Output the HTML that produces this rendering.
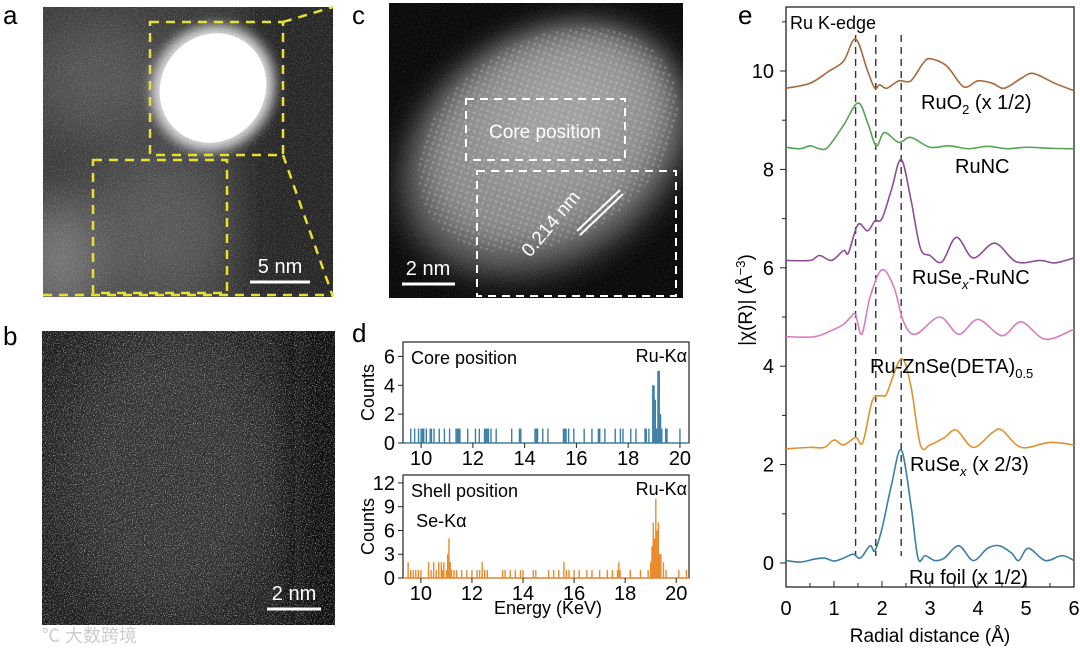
<!DOCTYPE html>
<html><head><meta charset="utf-8"><style>
body{margin:0;background:#fff;width:1080px;height:652px;overflow:hidden;font-family:"Liberation Sans",Arial,sans-serif}
svg{position:absolute;left:0;top:0}
</style></head><body>
<svg id="fig" width="1080" height="652" viewBox="0 0 1080 652" xmlns="http://www.w3.org/2000/svg">
<defs>
<filter id="noise" x="0" y="0" width="100%" height="100%"><feTurbulence type="fractalNoise" baseFrequency="0.9" numOctaves="2" seed="3"/><feColorMatrix type="matrix" values="0 0 0 0 1  0 0 0 0 1  0 0 0 0 1  3 0 0 0 -1.55"/></filter>
<filter id="blur6" x="-50%" y="-50%" width="200%" height="200%"><feGaussianBlur stdDeviation="6"/></filter>
<filter id="blur14" x="-50%" y="-50%" width="200%" height="200%"><feGaussianBlur stdDeviation="14"/></filter>
<filter id="blur25" x="-100%" y="-100%" width="300%" height="300%"><feGaussianBlur stdDeviation="25"/></filter>
<clipPath id="clipA"><rect x="43" y="7" width="290" height="290"/></clipPath>
<clipPath id="clipB"><rect x="42" y="331" width="293" height="294"/></clipPath>
<clipPath id="clipC"><rect x="389" y="3" width="294" height="295"/></clipPath>
<pattern id="lattice" width="6" height="6" patternUnits="userSpaceOnUse" patternTransform="rotate(-40)"><circle cx="3" cy="3" r="1.5" fill="#fff" opacity="0.18"/></pattern>
</defs>

<!-- Panel a -->
<g clip-path="url(#clipA)">
<rect x="43" y="7" width="290" height="290" fill="#3a3a3a"/>
<ellipse cx="100" cy="80" rx="70" ry="60" fill="#545454" filter="url(#blur25)"/>
<ellipse cx="160" cy="230" rx="70" ry="80" fill="#565656" filter="url(#blur25)"/>
<ellipse cx="60" cy="260" rx="40" ry="60" fill="#7a7a7a" filter="url(#blur25)"/>
<rect x="245" y="-20" width="120" height="340" fill="#262626" filter="url(#blur14)"/>
<ellipse cx="213" cy="88" rx="60" ry="64" transform="rotate(35 213 88)" fill="#ddd" filter="url(#blur6)"/>
<ellipse cx="213" cy="88" rx="52" ry="56" transform="rotate(35 213 88)" fill="#fff"/>
<rect x="43" y="7" width="290" height="290" filter="url(#noise)" opacity="0.3"/>
</g>
<g fill="none" stroke="#e6e030" stroke-width="2.5" stroke-dasharray="9,7">
<rect x="150" y="22" width="133" height="133"/>
<rect x="93" y="160" width="134" height="133"/>
<line x1="283" y1="22" x2="333" y2="7"/>
<line x1="283" y1="155" x2="333" y2="297"/>
<line x1="43" y1="295" x2="333" y2="295"/>
</g>
<line x1="250" y1="282" x2="310" y2="282" stroke="#fff" stroke-width="3"/>
<text x="280" y="273" fill="#fff" font-size="20" text-anchor="middle">5 nm</text>
<text x="3" y="24" font-size="26">a</text>

<!-- Panel b -->
<g clip-path="url(#clipB)">
<rect x="42" y="331" width="293" height="294" fill="#1e1e1e"/>
<ellipse cx="170" cy="470" rx="110" ry="150" fill="#333" filter="url(#blur25)"/>
<rect x="295" y="300" width="80" height="360" fill="#111" filter="url(#blur14)"/>
<rect x="42" y="331" width="293" height="294" filter="url(#noise)" opacity="0.7"/>
</g>
<line x1="267" y1="609" x2="321" y2="609" stroke="#fff" stroke-width="3"/>
<text x="294" y="600" fill="#fff" font-size="20" text-anchor="middle">2 nm</text>
<text x="3" y="345" font-size="26">b</text>
<text x="42" y="642" fill="#ccc" font-size="18" font-family="'Liberation Sans','Noto Sans CJK SC',sans-serif">℃ 大数跨境</text>

<!-- Panel c -->
<g clip-path="url(#clipC)">
<rect x="389" y="3" width="294" height="295" fill="#0a0a0a"/>
<ellipse cx="545" cy="150" rx="155" ry="115" transform="rotate(-32 545 150)" fill="#555" filter="url(#blur14)"/>
<ellipse cx="548" cy="140" rx="130" ry="95" transform="rotate(-32 548 140)" fill="#8a8a8a" filter="url(#blur14)"/>
<ellipse cx="560" cy="120" rx="80" ry="55" transform="rotate(-32 560 120)" fill="#a0a0a0" filter="url(#blur25)"/>
<ellipse cx="548" cy="140" rx="140" ry="100" transform="rotate(-32 548 140)" fill="url(#lattice)"/>
<rect x="389" y="3" width="294" height="295" filter="url(#noise)" opacity="0.15"/>
</g>
<g fill="none" stroke="#fff" stroke-width="2" stroke-dasharray="8,6">
<rect x="466" y="99" width="159" height="61"/>
<rect x="477" y="171" width="199" height="125"/>
</g>
<text x="545" y="138" fill="#fff" font-size="19" text-anchor="middle">Core position</text>
<g stroke="#fff" stroke-width="2"><line x1="577" y1="231" x2="620" y2="190"/><line x1="580" y1="235" x2="623" y2="194"/></g>
<text x="0" y="0" transform="translate(530,258) rotate(-50)" fill="#fff" font-size="19">0.214 nm</text>
<line x1="402" y1="284" x2="455" y2="284" stroke="#fff" stroke-width="3"/>
<text x="428" y="275" fill="#fff" font-size="20" text-anchor="middle">2 nm</text>
<text x="352" y="24" font-size="26">c</text>

<text x="352" y="342" font-size="26">d</text>
<g id="dTop"></g>
<g id="dBot"></g>

<text x="738" y="24" font-size="26">e</text>
<g id="eChart"></g>
</svg>
<script>
// ---------- Panel d data ----------
const coreEnergies = [9.6,9.75,9.9,10.0,10.05,10.1,10.2,10.35,10.4,10.5,10.7,10.9,11.1,11.35,11.4,11.45,11.5,11.8,12.1,12.25,12.45,12.5,12.55,12.6,12.7,12.9,13.5,13.8,13.85,14.4,14.45,14.5,14.7,14.9,15.5,15.55,15.6,15.7,15.9,16.3,16.6,16.85,16.9,17.1,17.5,17.7,17.8,18.1,18.3,18.65,18.7,18.8,18.95,19.0,19.05,19.1,19.15,19.2,19.25,19.3,19.45,19.5,20.0];
const coreCounts   = [1,1,1,1,1,1,1,1,1,1,1,1,1,1,1,1,1,1,1,1,1,1,1,1,1,1,1,1,1,1,1,1,1,1,1,1,1,1,1,1,1,1,1,1,1,1,1,1,1,1,1,1,4,4,3,1,5,5,2,1,1,1,1];
const shellEnergies = [9.5,9.6,9.7,9.8,9.9,10.0,10.3,10.4,10.5,10.6,10.7,10.8,10.85,10.9,11.0,11.05,11.1,11.15,11.2,11.3,11.4,11.6,11.8,12.0,12.2,12.3,12.4,12.5,12.6,13.2,13.3,13.5,13.7,13.9,14.0,14.4,14.5,15.0,15.2,15.4,15.6,15.7,15.8,16.0,16.2,16.5,16.7,17.0,17.3,17.5,17.7,17.75,17.8,18.2,18.6,18.9,19.0,19.05,19.1,19.15,19.2,19.25,19.3,19.35,19.4,19.5,19.6,20.1,20.4];
const shellCounts   = [2,1,1,1,1,1,2,1,2,1,2,2,1,2,1,3,5,2,1,1,1,1,1,1,1,1,2,1,1,1,1,1,1,1,1,1,1,1,1,1,2,1,1,1,1,1,1,1,1,1,1,2,1,1,1,1,2,4,7,5,10,6,7,3,3,2,1,1,1];
const dTicksX = [10,12,14,16,18,20];
const dTopTicksY = [0,2,4,6];
const dBotTicksY = [0,3,6,9,12];

// ---------- Panel e data ----------
const eTicksX = [0,1,2,3,4,5,6];
const eTicksY = [0,2,4,6,8,10];
const edgeLines = [1.45,1.87,2.4];
const ruo2X = [0,0.5,0.9,1.2,1.45,1.7,1.85,1.95,2.1,2.35,2.6,2.85,3.0,3.35,3.7,4.0,4.3,4.55,4.9,5.15,5.6,6.0];
const ruo2Y = [9.65,9.75,10.0,10.2,10.65,10.0,9.65,9.72,9.65,9.8,9.8,10.15,10.25,10.1,9.68,9.8,9.75,9.65,9.85,9.95,9.75,9.6];
const runcX = [0,0.3,0.5,0.7,0.87,1.2,1.5,1.7,1.88,2.05,2.35,2.6,3.0,3.4,3.8,4.2,4.6,5.0,5.5,6.0];
const runcY = [8.45,8.42,8.48,8.42,8.45,8.9,9.35,8.95,8.48,8.75,8.55,8.65,8.45,8.48,8.42,8.47,8.42,8.45,8.43,8.42];
const ruserX = [0,0.5,0.7,0.95,1.2,1.3,1.5,1.7,1.85,2.0,2.2,2.4,2.6,2.8,3.0,3.25,3.55,3.9,4.35,4.8,5.3,5.6,6.0];
const ruserY = [6.15,6.15,6.25,6.15,6.35,6.3,6.88,6.75,6.95,7.0,7.6,8.2,7.4,6.4,6.25,6.12,6.62,6.2,6.5,6.12,6.15,6.1,6.2];
const znX = [0,0.6,1.0,1.2,1.35,1.45,1.58,1.75,2.0,2.25,2.45,2.7,3.2,3.6,4.0,4.5,4.9,5.4,6.0];
const znY = [4.6,4.6,4.75,4.85,5.0,5.05,4.65,5.4,5.96,5.6,4.9,4.65,5.0,4.65,4.95,4.62,4.9,4.55,4.75];
const rusexX = [0,0.5,0.8,1.0,1.2,1.45,1.6,1.8,2.0,2.1,2.4,2.6,2.8,3.0,3.3,3.55,3.9,4.3,4.5,4.9,5.5,6.0];
const rusexY = [2.32,2.35,2.35,2.5,2.4,2.55,2.45,3.3,3.4,3.45,4.15,3.6,2.4,2.4,2.55,2.7,2.35,2.65,2.7,2.35,2.45,2.4];
const foilX = [0,0.3,0.6,0.8,1.0,1.2,1.4,1.55,1.75,1.85,2.0,2.2,2.4,2.6,2.75,2.9,3.1,3.3,3.6,3.9,4.2,4.45,4.7,4.85,5.05,5.4,5.75,6.0];
const foilY = [0.05,0.02,0.08,0.1,0.04,0.1,0.18,0.1,0.35,0.25,0.7,1.6,2.3,1.2,0.1,0.15,0.05,0.1,0.35,0.05,0.3,0.35,0.2,0.05,0.3,0.05,0.15,0.05];
const seriesLabels = ["RuO2","RuNC","RuSex-RuNC","Ru-ZnSe(DETA)0.5","RuSex","Ru foil"];

const NS="http://www.w3.org/2000/svg";
function mk(parent,tag,attrs,text){const e=document.createElementNS(NS,tag);for(const k in attrs)e.setAttribute(k,attrs[k]);if(text!==undefined)e.textContent=text;parent.appendChild(e);return e;}

function spectrum(g,box,xmin,xmax,ymax,ticksY,E,C,color,title,extra){
  const sx=v=>box.l+(v-xmin)/(xmax-xmin)*(box.r-box.l);
  const sy=v=>box.b-v/ymax*(box.b-box.t);
  const fr=mk(g,'rect',{x:box.l,y:box.t,width:box.r-box.l,height:box.b-box.t,fill:'none',stroke:'#222','stroke-width':1.2});
  
  
  const base=mk(g,'line',{x1:box.l,x2:box.r,y1:sy(0),y2:sy(0),stroke:color,'stroke-width':1.2});
  
  
  E.forEach((e,i)=>{
    const ln=mk(g,'line',{x1:sx(e),x2:sx(e),y1:sy(0),y2:sy(C[i]),stroke:color,'stroke-width':1.4});
    
    
  });
  dTicksX.forEach(t=>{
    const tk=mk(g,'line',{x1:sx(t),x2:sx(t),y1:box.b,y2:box.b+5,stroke:'#222'});
    
    
    const tl=mk(g,'text',{x:sx(t),y:box.b+22,'font-size':20,'text-anchor':'middle'},String(t));
    
    
  });
  ticksY.forEach(t=>{
    const tk=mk(g,'line',{x1:box.l-5,x2:box.l,y1:sy(t),y2:sy(t),stroke:'#222'});
    
    
    const tl=mk(g,'text',{x:box.l-8,y:sy(t)+7,'font-size':20,'text-anchor':'end'},String(t));
    
    
  });
  const yl=mk(g,'text',{transform:`translate(${box.l-29},${(box.t+box.b)/2}) rotate(-90)`,'font-size':18,'text-anchor':'middle'},'Counts');
  
  
  const tt=mk(g,'text',{x:box.l+8,y:box.t+22,'font-size':18},title);
  
  
  const rk=mk(g,'text',{x:box.r-2,y:box.t+20,'font-size':18,'text-anchor':'end'},'Ru-Kα');
  
  
  if(extra){const se=mk(g,'text',{x:sx(extra.x),y:extra.y,'font-size':18,'text-anchor':'middle'},'Se-Kα');
    
    }
}
spectrum(document.getElementById('dTop'),{l:403,r:689,t:342,b:443},9.3,20.35,7.0,dTopTicksY,coreEnergies,coreCounts,'#3d7ea6','Core position');
spectrum(document.getElementById('dBot'),{l:403,r:689,t:475,b:578},9.3,20.5,13,dBotTicksY,shellEnergies,shellCounts,'#e8892a','Shell position',{x:10.8,y:527});
const en=mk(document.getElementById('dBot'),'text',{x:548,y:614,'font-size':18,'text-anchor':'middle'},'Energy (KeV)');



(function(){
  const g=document.getElementById('eChart');
  const L=786,R=1074,T=7,B=587;
  const sx=v=>L+v*48, sy=v=>563-v*49.2;
  const fr=mk(g,'rect',{x:L,y:T,width:R-L,height:B-T,fill:'none',stroke:'#222','stroke-width':1.3});
  
  
  edgeLines.forEach(v=>{
    const l=mk(g,'line',{x1:sx(v),x2:sx(v),y1:35,y2:556,stroke:'#333','stroke-width':1.4,'stroke-dasharray':'7,5'});
    
    
  });
  eTicksX.forEach(t=>{
    const tk=mk(g,'line',{x1:sx(t),x2:sx(t),y1:B,y2:B-6,stroke:'#222'});
    
    
    const tl=mk(g,'text',{x:sx(t),y:B+28,'font-size':20,'text-anchor':'middle'},String(t));
    
    
    if(t<6){const mt=mk(g,'line',{x1:sx(t+0.5),x2:sx(t+0.5),y1:B,y2:B-4,stroke:'#222'});
      
      }
  });
  eTicksY.forEach(t=>{
    const tk=mk(g,'line',{x1:L,x2:L-6,y1:sy(t),y2:sy(t),stroke:'#222'});
    
    
    const tl=mk(g,'text',{x:L-12,y:sy(t)+7,'font-size':20,'text-anchor':'end'},String(t));
    
    
    const mt=mk(g,'line',{x1:L,x2:L-4,y1:sy(t+1),y2:sy(t+1),stroke:'#222'});
    
    
  });
  function path(X,Y){
    const P=X.map((x,i)=>[sx(x),sy(Y[i])]);
    let d=`M${P[0][0]},${P[0][1]}`;
    for(let i=0;i<P.length-1;i++){
      const p0=P[i-1]||P[i],p1=P[i],p2=P[i+1],p3=P[i+2]||p2;
      const c1=[p1[0]+(p2[0]-p0[0])/6,p1[1]+(p2[1]-p0[1])/6];
      const c2=[p2[0]-(p3[0]-p1[0])/6,p2[1]-(p3[1]-p1[1])/6];
      d+=` C${c1[0]},${c1[1]} ${c2[0]},${c2[1]} ${p2[0]},${p2[1]}`;
    }
    return d;
  }
  const S=[[ruo2X,ruo2Y,'#a8683e','ruo2-line'],[runcX,runcY,'#55a455','runc-line'],[ruserX,ruserY,'#8b4d94','rusex-runc-line'],[znX,znY,'#d67ebd','ru-znse-line'],[rusexX,rusexY,'#e0922f','rusex-line'],[foilX,foilY,'#3d7ea6','ru-foil-line']];
  S.forEach(s=>{
    const p=mk(g,'path',{d:path(s[0],s[1]),fill:'none',stroke:s[2],'stroke-width':1.6});
    
    
  });
  const labs=[
    [`RuO<tspan font-size="13" dy="5">2</tspan><tspan dy="-5"> (x 1/2)</tspan>`,921,109,'ruo2-label'],
    [`RuNC`,955,173,'runc-label'],
    [`RuSe<tspan font-size="13" dy="5" font-style="italic">x</tspan><tspan dy="-5">-RuNC</tspan>`,912,284,'rusex-runc-label'],
    [`Ru-ZnSe(DETA)<tspan font-size="13" dy="5">0.5</tspan>`,870,373,'ru-znse-label'],
    [`RuSe<tspan font-size="13" dy="5" font-style="italic">x</tspan><tspan dy="-5"> (x 2/3)</tspan>`,910,471,'rusex-label'],
    [`Ru foil (x 1/2)`,909,584,'ru-foil-label']];
  labs.forEach(l=>{
    const t=mk(g,'text',{x:l[1],y:l[2],'font-size':20});
    t.innerHTML=l[0];
    
    
  });
  const kt=mk(g,'text',{x:790,y:29,'font-size':18},'Ru K-edge');
  
  
  const xt=mk(g,'text',{x:930,y:642,'font-size':19,'text-anchor':'middle'},'Radial distance (Å)');
  
  
  const yt=mk(g,'text',{transform:'translate(752,300) rotate(-90)','font-size':19,'text-anchor':'middle'});
  yt.innerHTML='|χ(R)| (Å<tspan font-size="13" dy="-7">−3</tspan><tspan dy="7">)</tspan>';
  
  
})();
</script>
</body></html>
